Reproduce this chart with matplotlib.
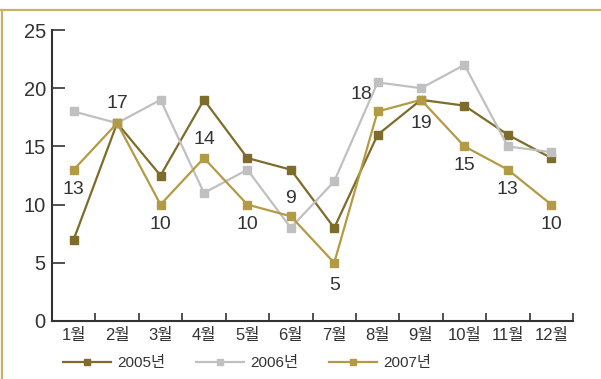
import numpy as np
import matplotlib
matplotlib.use('Agg')
import matplotlib.pyplot as plt
from matplotlib.lines import Line2D

plt.rcParams['font.family'] = ['Liberation Sans', 'Noto Sans CJK KR']

# Monthly values per year
months = ['1월', '2월', '3월', '4월', '5월', '6월', '7월', '8월', '9월', '10월', '11월', '12월']
y2005 = [7, 17, 12.5, 19, 14, 13, 8, 16, 19, 18.5, 16, 14]
y2006 = [18, 17, 19, 11, 13, 8, 12, 20.5, 20, 22, 15, 14.5]
y2007 = [13, 17, 10, 14, 10, 9, 5, 18, 19, 15, 13, 10]
series_names = ['2005년', '2006년', '2007년']
yticks = [0, 5, 10, 15, 20, 25]

colors = ['#7d6c2a', '#c0c0c0', '#b39b45']
text_col = '#333333'
frame_col = '#c9b266'

# where each 2007 value label sits relative to its point (offset points)
label_offsets = [(0, -14), (0, 14), (0, -14), (0, 13), (0, -14), (0, 13),
                 (0, -16), (-12, 12), (0, -17), (0, -14), (0, -14), (0, -14)]

fig = plt.figure(figsize=(6.01, 3.79), dpi=100)
ax = fig.add_axes([52/601, 1-321/379, (573-52)/601, (321-30)/379])

x = np.arange(len(months))
for vals, c, name in zip([y2005, y2006, y2007], colors, series_names):
    ax.plot(x, vals, color=c, lw=1.6, marker='s', ms=6, mec=c, mfc=c, label=name)

for xi, v, off in zip(x, y2007, label_offsets):
    ax.annotate('%g' % v, (xi, v), xytext=off, textcoords='offset points',
                ha='center', va='center', fontsize=14, color=text_col)

ax.set_xlim(-0.5, len(months) - 0.5)
ax.set_ylim(0, 25)
ax.set_yticks(yticks)
ax.set_xticks(np.arange(-0.5, len(months)), labels=[])
ax.set_xticks(x, labels=months, minor=True)
ax.tick_params(axis='x', which='major', direction='in', length=5.5, width=1.2, color=text_col)
ax.tick_params(axis='x', which='minor', length=0, pad=5, labelsize=12, labelcolor=text_col)
ax.tick_params(axis='y', direction='in', length=9, width=1.2, color=text_col,
               pad=4.5, labelsize=14.5, labelcolor=text_col)
for s in ['top', 'right']:
    ax.spines[s].set_visible(False)
for s in ['left', 'bottom']:
    ax.spines[s].set_color(text_col)
    ax.spines[s].set_linewidth(1.5)

leg = fig.legend(loc='center left', bbox_to_anchor=(63/601, 1-363/379), ncol=3,
                 frameon=False, fontsize=11, handlelength=3.15, columnspacing=2.0,
                 handletextpad=0.4, borderpad=0, borderaxespad=0, markerscale=0.8)
for t in leg.get_texts():
    t.set_color(text_col)

# gold frame along the top and left edge
fig.add_artist(Line2D([1/601, 1], [1-10/379, 1-10/379], color=frame_col, lw=1.6))
fig.add_artist(Line2D([2/601, 2/601], [0, 1-10/379], color=frame_col, lw=1.6))

fig.savefig('out.png', dpi=100)
